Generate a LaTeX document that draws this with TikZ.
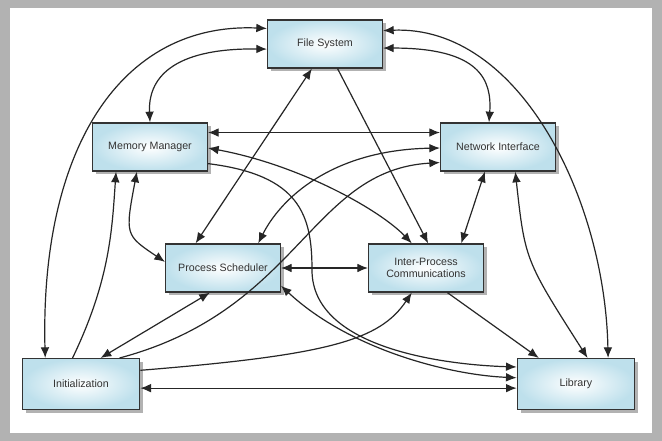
\documentclass[tikz,border=0pt]{standalone}
\usepackage{fontspec}
\setmainfont{Liberation Sans}
\usetikzlibrary{arrows.meta,shadows}

\definecolor{boxblue}{RGB}{190,224,236}
\definecolor{framegray}{RGB}{178,178,178}

\tikzset{
    module/.style={draw=black!80,line width=1pt,inner color=white,outer color=boxblue,
        minimum width=86pt,minimum height=36pt,align=center,
        font=\fontsize{8}{9.5}\selectfont,text=black!80,
        drop shadow={opacity=0.6,shadow xshift=2.5pt,shadow yshift=-2.5pt}},
    link/.style={draw=black!85,line width=0.9pt},
    tip/.tip={Latex[length=8pt,width=6.5pt]}
}

\begin{document}
\begin{tikzpicture}[x=0.75pt,y=-0.75pt]
        \fill[framegray] (0,0) rectangle (662,441);
        \fill[white] (10,8) rectangle (652,433);
        \useasboundingbox (0,0) rectangle (662,441);

        \coordinate (FS)   at (325,44);
        \coordinate (MM)   at (150,147);
        \coordinate (NI)   at (498,147);
        \coordinate (PS)   at (223,268);
        \coordinate (IPC)  at (426,268);
        \coordinate (INIT) at (81,384);
        \coordinate (LIB)  at (576,384);

        \node[module] (fs)   at (FS)   {File System};
        \node[module] (mm)   at (MM)   {Memory Manager};
        \node[module] (ni)   at (NI)   {Network Interface};
        \node[module] (ps)   at (PS)   {Process Scheduler};
        \node[module] (ipc)  at (IPC)  {Inter-Process\\Communications};
        \node[module,minimum width=88pt,minimum height=38pt] (init) at (INIT) {Initialization};
        \node[module,minimum width=88pt,minimum height=38pt] (lib)  at (LIB)  {Library};

        % around the outside
        \draw[link,{tip}-{tip}] (init.144) .. controls (40,150) and (120,22) .. (fs.165);
        \draw[link,{tip}-{tip}] (fs.13) .. controls (520,25) and (605,200) .. (lib.39);
        \draw[link,{tip}-{tip}] (fs.185) .. controls (170,48) and (148,80) .. (mm.90);
        \draw[link,{tip}-{tip}] (fs.356) .. controls (480,48) and (492,80) .. (ni.110);

        % upper row
        \draw[link,{tip}-{tip}] (mm.14) -- (ni.166);
        \draw[link,-{tip}]      (fs.297) -- (ipc.85);
        \draw[link,{tip}-{tip}] (fs.242) -- (ps.138);
        \draw[link,{tip}-{tip}] (mm.242) .. controls (125,235) .. (ps.174);
        \draw[link,{tip}-{tip}] (mm.359) .. controls (300,165) and (380,210) .. (ipc.120);
        \draw[link,-{tip}]      (mm.344) .. controls (300,175) and (312,215) .. (312,270)
                                .. controls (312,350) and (450,365) .. (lib.164);
        \draw[link,{tip}-{tip}] (ni.181) .. controls (330,150) and (280,200) .. (ps.35);
        \draw[link,-{tip}]      (init.34) .. controls (300,310) and (310,170) .. (ni.195);
        \draw[link,{tip}-{tip}] (ni.242) -- (ipc.35);
        \draw[link,{tip}-{tip}] (ni.305) .. controls (525,260) .. (lib.66);

        % lower row
        \draw[link,{tip}-{tip}] (ps.east) -- (ipc.west);
        \draw[link,{tip}-{tip}] (ps.242) -- (init.53);
        \draw[link,-{tip}]      (init.108) .. controls (110,280) and (112,230) .. (mm.216);
        \draw[link,-{tip}]      (init.13) .. controls (330,355) and (380,340) .. (ipc.240);
        \draw[link,{tip}-{tip}] (init.356) -- (lib.184);
        \draw[link,{tip}-{tip}] (ps.343) .. controls (350,350) and (450,375) .. (lib.174);
        \draw[link,-{tip}]      (ipc.311) -- (lib.145);
    \end{tikzpicture}
\end{document}
